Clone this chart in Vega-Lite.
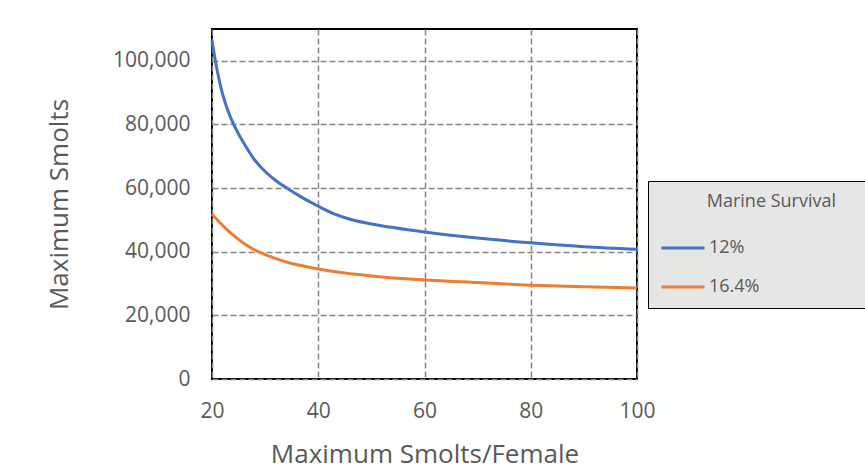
{
  "$schema": "https://vega.github.io/schema/vega-lite/v6.json",
  "autosize": {"type": "none"},
  "padding": {"left": 212, "top": 29, "right": 228, "bottom": 97},
  "width": 425,
  "height": 350,
  "background": "white",
  "data": {
    "values": [
      {"f": 20, "s": 106300, "m": "12%"},
      {"f": 21, "s": 96800, "m": "12%"},
      {"f": 22, "s": 89500, "m": "12%"},
      {"f": 23, "s": 84300, "m": "12%"},
      {"f": 24, "s": 80300, "m": "12%"},
      {"f": 25, "s": 77000, "m": "12%"},
      {"f": 26, "s": 74100, "m": "12%"},
      {"f": 28, "s": 68900, "m": "12%"},
      {"f": 30, "s": 65200, "m": "12%"},
      {"f": 32, "s": 62400, "m": "12%"},
      {"f": 34, "s": 60100, "m": "12%"},
      {"f": 37, "s": 57000, "m": "12%"},
      {"f": 40, "s": 54300, "m": "12%"},
      {"f": 43, "s": 51900, "m": "12%"},
      {"f": 46, "s": 50200, "m": "12%"},
      {"f": 50, "s": 48700, "m": "12%"},
      {"f": 60, "s": 46200, "m": "12%"},
      {"f": 70, "s": 44300, "m": "12%"},
      {"f": 80, "s": 42800, "m": "12%"},
      {"f": 90, "s": 41600, "m": "12%"},
      {"f": 100, "s": 40800, "m": "12%"},
      {"f": 20, "s": 51800, "m": "16.4%"},
      {"f": 22, "s": 48300, "m": "16.4%"},
      {"f": 24, "s": 45200, "m": "16.4%"},
      {"f": 26, "s": 42600, "m": "16.4%"},
      {"f": 28, "s": 40600, "m": "16.4%"},
      {"f": 30, "s": 39100, "m": "16.4%"},
      {"f": 33, "s": 37300, "m": "16.4%"},
      {"f": 36, "s": 35900, "m": "16.4%"},
      {"f": 40, "s": 34600, "m": "16.4%"},
      {"f": 45, "s": 33300, "m": "16.4%"},
      {"f": 50, "s": 32400, "m": "16.4%"},
      {"f": 57, "s": 31450, "m": "16.4%"},
      {"f": 70, "s": 30300, "m": "16.4%"},
      {"f": 80, "s": 29500, "m": "16.4%"},
      {"f": 90, "s": 29000, "m": "16.4%"},
      {"f": 100, "s": 28600, "m": "16.4%"}
    ]
  },
  "mark": {"type": "line", "interpolate": "catmull-rom", "strokeWidth": 3},
  "encoding": {
    "x": {
      "field": "f",
      "type": "quantitative",
      "title": "Maximum Smolts/Female",
      "scale": {"domain": [20, 100], "nice": false, "zero": false},
      "axis": {"values": [20, 40, 60, 80, 100], "labelFlush": false, "labelPadding": 21, "titlePadding": 20}
    },
    "y": {
      "field": "s",
      "type": "quantitative",
      "title": "Maximum Smolts",
      "scale": {"domain": [0, 110000], "nice": false},
      "axis": {"values": [0, 20000, 40000, 60000, 80000, 100000], "format": ",.0f", "labelFlush": false, "labelPadding": 22, "titlePadding": 40}
    },
    "color": {
      "field": "m",
      "type": "nominal",
      "scale": {"domain": ["12%", "16.4%"], "range": ["#4472C4", "#ED7D31"]},
      "legend": {
        "title": "\u200b\u00a0\u00a0\u00a0\u00a0\u00a0\u00a0\u00a0\u00a0\u00a0\u00a0Marine Survival\u00a0\u00a0\u00a0\u00a0\u200b",
        "titleLimit": 500,
        "orient": "none",
        "legendX": 436,
        "legendY": 152,
        "fillColor": "#e6e6e6",
        "strokeColor": "#000000",
        "padding": 12,
        "symbolType": "stroke",
        "symbolSize": 1849,
        "symbolStrokeWidth": 3,
        "labelOffset": 3,
        "rowPadding": 7,
        "titlePadding": 14
      }
    }
  },
  "config": {
    "font": "Open Sans",
    "view": {"stroke": "#000000", "strokeWidth": 2},
    "axis": {
      "domain": false,
      "ticks": false,
      "grid": true,
      "gridColor": "#858585",
      "gridDash": [6, 3],
      "gridWidth": 1.5,
      "labelFont": "Open Sans",
      "labelFontSize": 21,
      "labelColor": "#595959",
      "titleFont": "Open Sans",
      "titleFontSize": 26,
      "titleFontWeight": "normal",
      "titleColor": "#595959"
    },
    "legend": {
      "labelFont": "Open Sans",
      "labelFontSize": 18,
      "labelColor": "#595959",
      "titleFont": "Open Sans",
      "titleFontSize": 18,
      "titleFontWeight": "normal",
      "titleColor": "#595959"
    }
  }
}
